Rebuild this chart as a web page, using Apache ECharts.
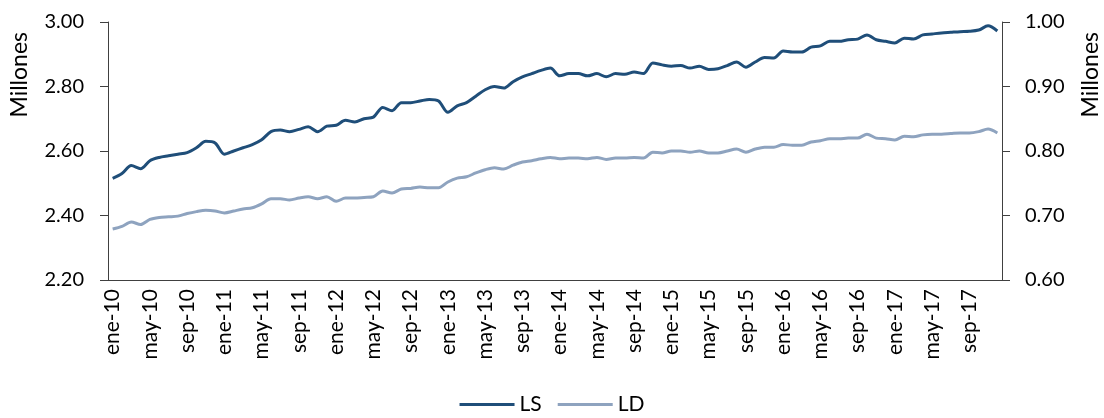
<!DOCTYPE html>
<html>
<head>
<meta charset="utf-8">
<script src="https://cdn.jsdelivr.net/npm/echarts@6/dist/echarts.min.js"></script>
<style>
  html, body { margin: 0; padding: 0; background: #fff; }
  #chart { width: 1104px; height: 418px; }
</style>
</head>
<body>
<div id="chart"></div>
<script>
var meses = ['ene', 'feb', 'mar', 'abr', 'may', 'jun', 'jul', 'ago', 'sep', 'oct', 'nov', 'dic'];
var anios = ['10', '11', '12', '13', '14', '15', '16', '17'];
var categorias = [];
for (var a = 0; a < anios.length; a++) {
  for (var m = 0; m < meses.length; m++) {
    categorias.push(meses[m] + '-' + anios[a]);
  }
}

// LS, eje izquierdo (millones)
var ls = [
  2.515, 2.53, 2.555, 2.545, 2.57, 2.58, 2.585, 2.59, 2.595, 2.61, 2.63, 2.625,
  2.59, 2.60, 2.61, 2.62, 2.635, 2.66, 2.665, 2.66, 2.667, 2.675, 2.66, 2.677,
  2.68, 2.695, 2.69, 2.70, 2.705, 2.735, 2.725, 2.75, 2.75, 2.755, 2.76, 2.755,
  2.72, 2.74, 2.75, 2.77, 2.79, 2.80, 2.795, 2.815, 2.83, 2.84, 2.85, 2.857,
  2.833, 2.84, 2.84, 2.833, 2.84, 2.83, 2.84, 2.838, 2.845, 2.84, 2.873, 2.867,
  2.863, 2.865, 2.857, 2.863, 2.853, 2.855, 2.865, 2.876, 2.86, 2.876, 2.89, 2.888,
  2.91, 2.907, 2.907, 2.922, 2.926, 2.94, 2.94, 2.945, 2.947, 2.96, 2.945, 2.94,
  2.935, 2.95, 2.947, 2.96, 2.963, 2.966, 2.968, 2.97, 2.971, 2.975, 2.988, 2.972
];

// LD, eje derecho (millones)
var ld = [
  0.679, 0.683, 0.69, 0.686, 0.694, 0.697, 0.698, 0.699, 0.703, 0.706, 0.708, 0.707,
  0.704, 0.707, 0.71, 0.712, 0.718, 0.726, 0.726, 0.724, 0.727, 0.729, 0.726, 0.729,
  0.722, 0.727, 0.727, 0.728, 0.729, 0.738, 0.735, 0.741, 0.742, 0.744, 0.743, 0.743,
  0.752, 0.758, 0.76, 0.766, 0.771, 0.774, 0.772, 0.778, 0.783, 0.785, 0.788, 0.79,
  0.788, 0.789, 0.789, 0.788, 0.79, 0.787, 0.789, 0.789, 0.79, 0.789, 0.798, 0.797,
  0.80, 0.80, 0.798, 0.80, 0.797, 0.797, 0.80, 0.803, 0.798, 0.803, 0.806, 0.806,
  0.81, 0.809, 0.809, 0.814, 0.816, 0.819, 0.819, 0.82, 0.82, 0.826, 0.82, 0.819,
  0.817, 0.823, 0.822, 0.825, 0.826, 0.826, 0.827, 0.828, 0.828, 0.83, 0.834, 0.828
];

var fuente = 'Lato';
var colorEje = '#404040';
var chart = echarts.init(document.getElementById('chart'));

var option = {
  animation: false,
  textStyle: { fontFamily: fuente, color: '#000' },
  grid: { left: 108, right: 102, top: 22, bottom: 138, containLabel: false },
  legend: {
    bottom: -2,
    left: 'center',
    icon: 'rect',
    itemWidth: 55,
    itemHeight: 3,
    itemGap: 16,
    textStyle: { fontFamily: fuente, fontSize: 21, color: '#000' },
    data: ['LS', 'LD']
  },
  graphic: [
    {
      type: 'text', left: 8, top: 32, rotation: Math.PI / 2,
      style: { text: 'Millones', font: '23px ' + fuente, fill: '#000' }
    },
    {
      type: 'text', right: 2, top: 32, rotation: Math.PI / 2,
      style: { text: 'Millones', font: '23px ' + fuente, fill: '#000' }
    }
  ],
  xAxis: {
    type: 'category',
    data: categorias,
    boundaryGap: true,
    axisLine: { lineStyle: { color: colorEje, width: 1 } },
    axisTick: { interval: 3, length: 7, lineStyle: { color: colorEje } },
    axisLabel: { interval: 3, rotate: 90, fontSize: 21, color: '#000', margin: 9 }
  },
  yAxis: [
    {
      type: 'value', min: 2.2, max: 3.0, interval: 0.2, position: 'left',
      splitLine: { show: false },
      axisLine: { show: true, lineStyle: { color: colorEje } },
      axisTick: { show: true, length: 8, lineStyle: { color: colorEje } },
      axisLabel: { fontSize: 20, color: '#000', margin: 24, formatter: function (v) { return v.toFixed(2); } }
    },
    {
      type: 'value', min: 0.6, max: 1.0, interval: 0.1, position: 'right',
      splitLine: { show: false },
      axisLine: { show: true, lineStyle: { color: colorEje } },
      axisTick: { show: true, length: 8, lineStyle: { color: colorEje } },
      axisLabel: { fontSize: 20, color: '#000', margin: 23, formatter: function (v) { return v.toFixed(2); } }
    }
  ],
  series: [
    {
      name: 'LS', type: 'line', yAxisIndex: 0, data: ls,
      smooth: 0.3, showSymbol: false,
      lineStyle: { color: '#1f4e79', width: 3 },
      itemStyle: { color: '#1f4e79' }
    },
    {
      name: 'LD', type: 'line', yAxisIndex: 1, data: ld,
      smooth: 0.3, showSymbol: false,
      lineStyle: { color: '#8ea3bf', width: 3 },
      itemStyle: { color: '#8ea3bf' }
    }
  ]
};

chart.setOption(option);
</script>
</body>
</html>
